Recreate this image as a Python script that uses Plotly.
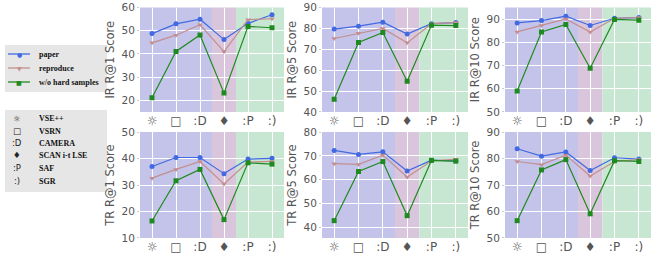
import plotly.graph_objects as go
from plotly.subplots import make_subplots

categories = ["VSE++", "VSRN", "CAMERA", "SCAN i-t LSE", "SAF", "SGR"]
tick_symbols = ["☼\ufe0e", "□", ":D", "♦\ufe0e", ":P", ":)"]
series_names = ["paper", "reproduce", "w/o hard samples"]

ir_r1 = {"paper": [48.8, 53.0, 55.0, 46.2, 53.2, 56.9],
         "reproduce": [44.8, 48.1, 52.6, 41.0, 54.8, 55.2],
         "w/o hard samples": [21.1, 41.1, 48.2, 23.1, 51.9, 51.3]}
ir_r5 = {"paper": [79.7, 81.1, 83.0, 77.3, 82.3, 82.8],
         "reproduce": [75.2, 77.7, 80.0, 73.1, 82.3, 82.8],
         "w/o hard samples": [46.1, 73.3, 78.1, 54.7, 81.6, 81.4]}
ir_r10 = {"paper": [88.4, 89.4, 91.3, 87.3, 90.4, 90.7],
          "reproduce": [84.5, 87.3, 90.1, 84.5, 90.4, 90.7],
          "w/o hard samples": [59.0, 84.5, 87.7, 68.8, 89.9, 89.6]}
tr_r1 = {"paper": [37.0, 40.4, 40.4, 34.3, 39.8, 40.1],
         "reproduce": [32.6, 35.9, 38.9, 30.4, 38.7, 38.9],
         "w/o hard samples": [16.4, 31.6, 35.9, 16.9, 38.4, 37.9]}
tr_r5 = {"paper": [72.3, 70.6, 71.7, 63.6, 68.2, 67.8],
         "reproduce": [66.7, 66.4, 70.3, 61.1, 67.8, 68.6],
         "w/o hard samples": [42.7, 63.4, 67.6, 44.8, 68.1, 67.8]}
tr_r10 = {"paper": [83.7, 80.9, 82.5, 75.5, 80.3, 79.8],
          "reproduce": [78.9, 77.7, 81.3, 73.4, 78.9, 79.6],
          "w/o hard samples": [56.5, 75.7, 79.6, 59.1, 79.2, 78.9]}

panels = [
    (ir_r1, "IR R@1 Score", [14.95, 60.05]),
    (ir_r5, "IR R@5 Score", [39.95, 90.05]),
    (ir_r10, "IR R@10 Score", [49.95, 95.05]),
    (tr_r1, "TR R@1 Score", [9.95, 50.05]),
    (tr_r5, "TR R@5 Score", [35.4, 80.05]),
    (tr_r10, "TR R@10 Score", [49.95, 90.05]),
]

styles = {
    "paper": dict(color="#4169e1", symbol="circle", size=5, glyph="●"),
    "reproduce": dict(color="#c48e8e", symbol="triangle-down", size=5, glyph="▼"),
    "w/o hard samples": dict(color="#1f8a1f", symbol="square", size=5, glyph="■"),
}

W, H = 664, 258
xdoms = [(140, 284), (322, 468), (505, 651)]
ydoms = [(7.5, 112), (132, 238)]

fig = make_subplots(rows=2, cols=3)

FONT = "DejaVu Sans"
for i, (data, title, yr) in enumerate(panels):
    r, c = divmod(i, 3)
    for name in series_names:
        st = styles[name]
        fig.add_trace(go.Scatter(
            x=categories, y=data[name], mode="lines+markers", name=name,
            line=dict(color=st["color"], width=1.2),
            marker=dict(color=st["color"], symbol=st["symbol"], size=st["size"]),
            showlegend=False,
        ), row=r + 1, col=c + 1)
    idx = "" if i == 0 else str(i + 1)
    x0, x1 = xdoms[c]
    y0, y1 = ydoms[r]
    fig.layout["xaxis" + idx].update(
        domain=[x0 / W, x1 / W], range=[-0.5, 5.5], type="category",
        tickvals=categories, ticktext=tick_symbols, automargin=False,
        showgrid=True, gridcolor="white", gridwidth=1, zeroline=False,
        ticks="", ticklabelstandoff=0,
        tickfont=dict(family=FONT, size=12, color="#555555"), showline=False)
    fig.layout["yaxis" + idx].update(
        domain=[1 - y1 / H, 1 - y0 / H], range=yr, tick0=0, dtick=10, automargin=False,
        showgrid=True, gridcolor="white", gridwidth=1, zeroline=False,
        ticks="outside", ticklen=2, tickcolor="#cccccc",
        tickfont=dict(family=FONT, size=10.5, color="#555555"),
        title=dict(text=title, font=dict(family=FONT, size=11.5, color="#555555"), standoff=4))
    xref = "x" + idx
    yref = "y" + idx + " domain"
    for (a, b, col) in [(-0.5, 2.5, "#c4c4eb"), (2.5, 3.5, "#d9c6dc"), (3.5, 5.5, "#c7e7d2")]:
        fig.add_shape(type="rect", xref=xref, yref=yref, x0=a, x1=b, y0=0, y1=1,
                      fillcolor=col, line=dict(width=0), layer="below")

# legend 1 (series) drawn as a box with line samples
fig.add_shape(type="rect", xref="paper", yref="paper",
              x0=5 / W, x1=107 / W, y0=1 - 92 / H, y1=1 - 45 / H,
              fillcolor="#e6e6e6", line=dict(width=0), layer="below")
for name, yy in zip(series_names, [54, 68, 82]):
    st = styles[name]
    fig.add_shape(type="line", xref="paper", yref="paper",
                  x0=8 / W, x1=30 / W, y0=1 - yy / H, y1=1 - yy / H,
                  line=dict(color=st["color"], width=1.3))
    fig.add_annotation(x=19 / W, y=1 - yy / H, xref="paper", yref="paper",
                       text=st["glyph"], showarrow=False, xanchor="center", yanchor="middle",
                       font=dict(family=FONT, size=6, color=st["color"]))
    fig.add_annotation(x=37 / W, y=1 - yy / H, xref="paper", yref="paper",
                       text="<b>" + name + "</b>", showarrow=False, xanchor="left",
                       yanchor="middle",
                       font=dict(family="Liberation Serif", size=8, color="#111111"))

# legend 2 (method symbols)
fig.add_shape(type="rect", xref="paper", yref="paper",
              x0=5 / W, x1=107 / W, y0=1 - 192 / H, y1=1 - 110 / H,
              fillcolor="#e6e6e6", line=dict(width=0), layer="below")
rows_y = [119, 131, 143, 155, 168, 181]
for sym, name, yy in zip(tick_symbols, categories, rows_y):
    fig.add_annotation(x=17 / W, y=1 - yy / H, xref="paper", yref="paper",
                       text=sym, showarrow=False, xanchor="center", yanchor="middle",
                       font=dict(family=FONT, size=8.5, color="#222222"))
    fig.add_annotation(x=37 / W, y=1 - yy / H, xref="paper", yref="paper",
                       text="<b>" + name + "</b>", showarrow=False, xanchor="left",
                       yanchor="middle",
                       font=dict(family="Liberation Serif", size=8, color="#111111"))

fig.update_layout(
    width=W, height=H, margin=dict(l=0, r=0, t=0, b=0),
    paper_bgcolor="white", plot_bgcolor="rgba(0,0,0,0)",
    showlegend=False,
)

fig.write_html("out.html", config={"displayModeBar": False},
               post_script="document.body.style.margin='0';")
